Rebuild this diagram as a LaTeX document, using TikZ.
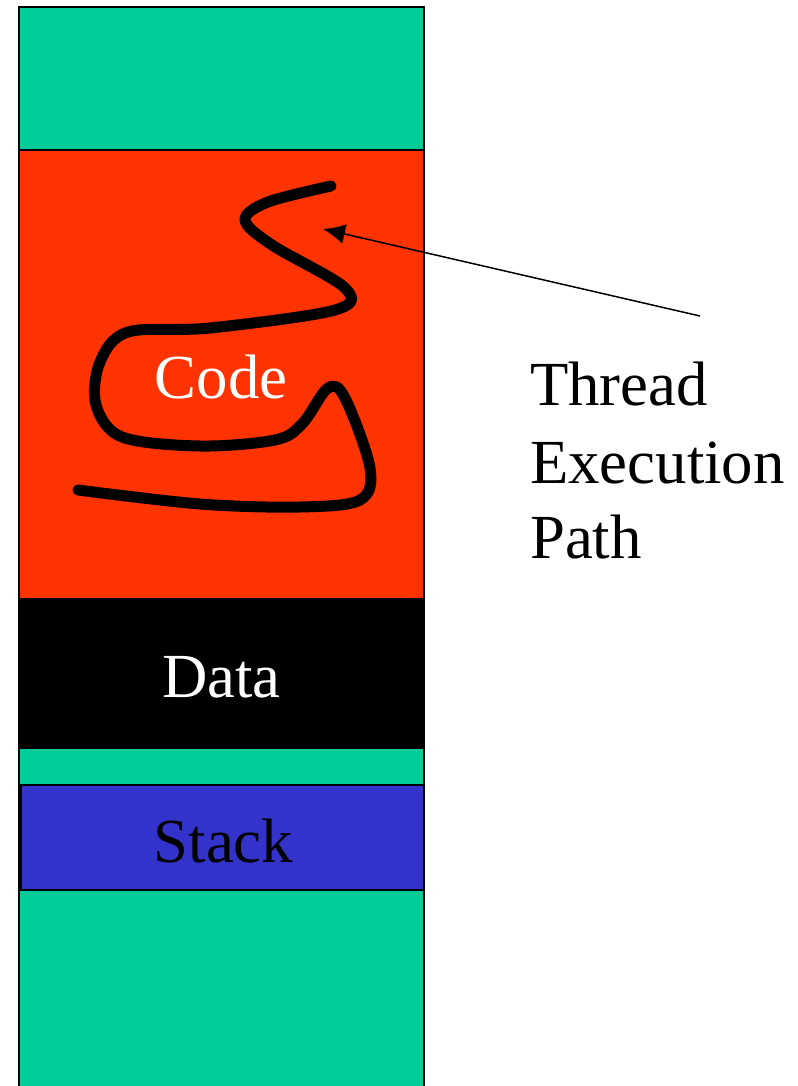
\documentclass[tikz,border=0pt]{standalone}
\usepackage{fontspec}
\setmainfont{Liberation Serif}
\usepackage{tikz}
\usetikzlibrary{arrows.meta,positioning}
\definecolor{memgreen}{RGB}{0,204,153}
\definecolor{memred}{RGB}{255,51,0}
\definecolor{memblue}{RGB}{51,51,204}
\tikzset{
  segment/.style={draw=black,line width=1.5bp,rectangle,inner sep=0pt,outer sep=0pt,minimum width=405bp},
  seglabel/.style={anchor=base,inner sep=0pt,font=\fontsize{63}{76}\selectfont},
}
\begin{document}
\begin{tikzpicture}[x=1bp,y=-1bp]
  \useasboundingbox (0,0) rectangle (798,1086);
  %%
  % Node: top free area
  \node[segment,fill=memgreen,minimum height=143bp] (freetop) at (221.5,78.5) {};
  % Node: code segment
  \node[segment,fill=memred,minimum height=449bp] (codeseg) at (221.5,374.5) {};
  % Node: data segment
  \node[segment,fill=black,minimum height=149bp] (dataseg) at (221.5,673.5) {};
  % Node: lower free area
  \node[segment,fill=memgreen,minimum height=342bp] (freelow) at (221.5,919) {};
  % Node: stack segment
  \node[segment,fill=memblue,minimum width=403bp,minimum height=105bp] (stackseg) at (222.5,837.5) {};
  %
  \node[seglabel,text=white] (codelbl) at (221,398) {Code};
  \node[seglabel,text=white] (datalbl) at (221.5,697) {Data};
  \node[seglabel,text=black] (stacklbl) at (223.5,862) {Stack};
  %
  % Thread execution path
  \draw[line width=11bp,line cap=round,line join=round]
    plot[smooth,tension=0.55] coordinates {
      (331,186) (268,202) (245,220) (272,245) (345,288) (335,310)
      (210,328) (128,332) (100,362) (96,405) (122,437) (200,446)
      (275,440) (302,424) (328,388) (345,398) (370,468) (360,500)
      (300,507) (200,504) (78,490)};
  %
  % Node: caption
  \node[seglabel,anchor=base west] (thread) at (530,405) {Thread};
  \node[seglabel,anchor=base west] (execution) at (530,483) {Execution};
  \node[seglabel,anchor=base west] (path) at (530,558) {Path};
  \coordinate (arrowtail) at (700,316);
  \coordinate (arrowtip) at (323,229);
  % Edge: caption -> path
  \draw[-{Latex[length=22bp,width=20bp]},line width=1.5bp] (arrowtail) -- (arrowtip);
\end{tikzpicture}
\end{document}
